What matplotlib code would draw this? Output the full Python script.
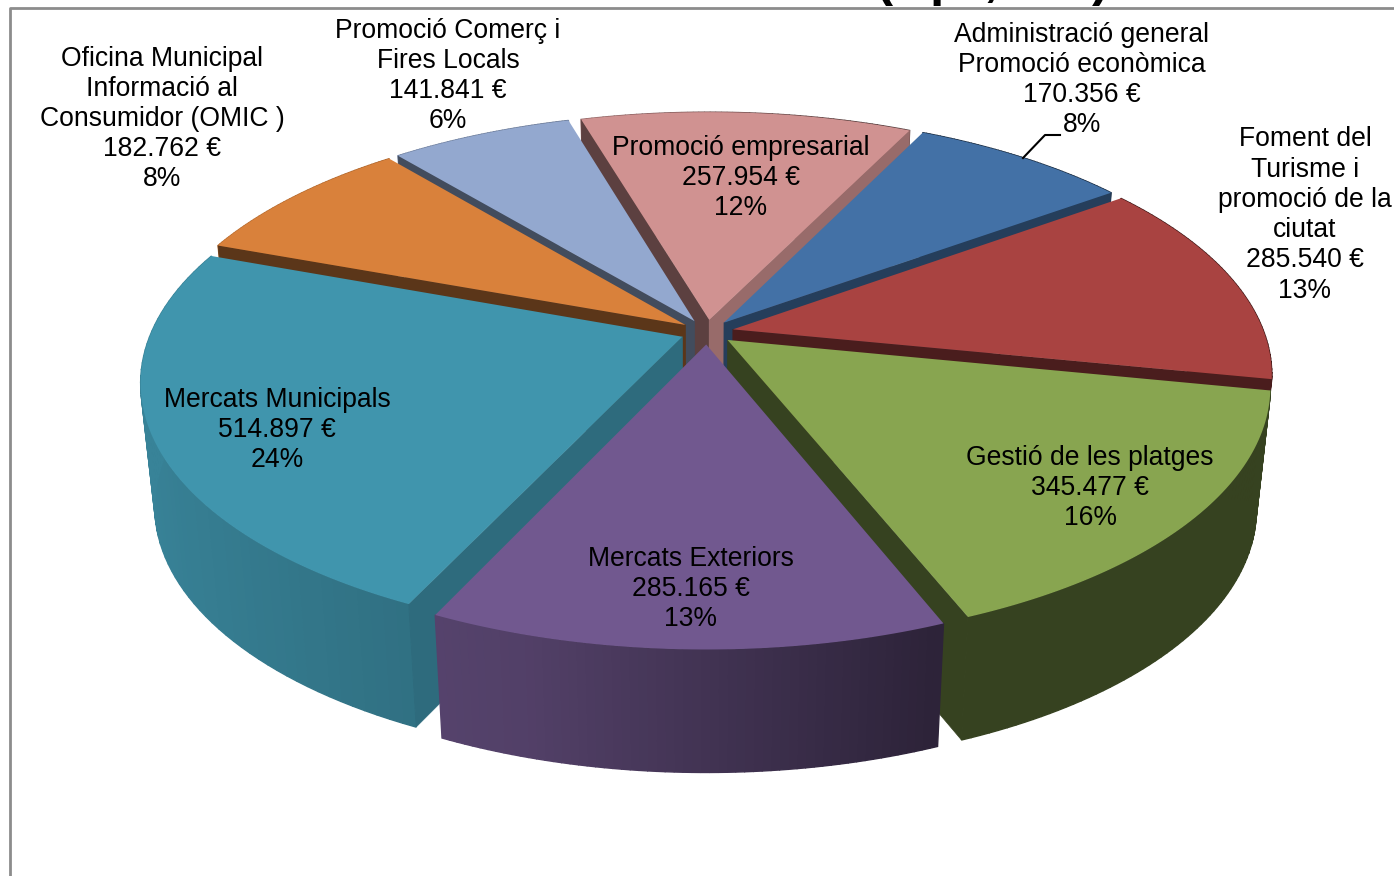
import numpy as np
import matplotlib
matplotlib.use("Agg")
import matplotlib.pyplot as plt

names = ["Administració general\nPromoció econòmica", "Foment del\nTurisme i\npromoció de la\nciutat",
         "Gestió de les platges", "Mercats Exteriors", "Mercats Municipals",
         "Oficina Municipal\nInformació al\nConsumidor (OMIC )", "Promoció Comerç i\nFires Locals",
         "Promoció empresarial"]
values = [170356, 285540, 345477, 285165, 514897, 182762, 141841, 257954]
colors = ["#4371a6", "#a94341", "#88a550", "#71588f", "#4095ad", "#d9813b", "#93a8cf", "#d09291"]

# shade of the two cut faces of each slice (higher angle side, lower angle side)
wall_hi = [0.55, 0.55, 0.40, 0.50, 0.72, 0.42, 0.45, 0.44]
wall_lo = [0.55, 0.44, 0.40, 0.50, 0.50, 0.42, 0.45, 0.73]

label_x = [1082, 1305, 1090, 691, 277, 162, 448, 741]
label_y = [80, 215, 488, 589, 430, 119, 76, 178]

cx, cy = 707, 332
R = 531
k = 0.466
p = 0.173
explode = 0.05
depth = 123
x_shrink = 0.975
start_angle = 63.9


def project(X, Y):
    s = 1 / (1 + p * Y)
    return cx + R * X * s, cy - R * k * Y * s


def to_bottom(x, y):
    return cx + (x - cx) * x_shrink, y + depth


def shade(color, f):
    rgb = np.array(matplotlib.colors.to_rgb(color))
    return tuple(rgb * f)


def side_shade(theta):
    return np.interp(np.cos(theta), [-1, -0.27, 0.35, 1], [0.88, 0.72, 0.40, 0.40])


fig = plt.figure(figsize=(13.94, 8.76), dpi=100)
ax = fig.add_axes([0, 0, 1, 1])
ax.set_xlim(0, 1394)
ax.set_ylim(876, 0)
ax.axis("off")
plt.rcParams["font.family"] = ["Liberation Sans", "DejaVu Sans"]

# frame of the chart area, the title is cut off by the top of the picture
ax.plot([9.5, 9.5, 1394], [876, 8, 8], color="#8c8c8c", lw=2)
for ch, x in zip(["(", "p", ",", ")"], [884, 945, 991, 1100]):
    ax.text(x, -5, ch, fontsize=37, fontweight="bold", ha="center", va="baseline")

total = sum(values)
spans = [v / total * 360 for v in values]
starts = start_angle - np.concatenate([[0], np.cumsum(spans)[:-1]])

slices = []
for i in range(len(values)):
    a0 = np.radians(starts[i])
    a1 = np.radians(starts[i] - spans[i])
    mid = (a0 + a1) / 2
    slices.append((np.sin(mid), i, a0, a1, mid))

# back slices first
for _, i, a0, a1, mid in sorted(slices, key=lambda t: -t[0]):
    ex, ey = explode * np.cos(mid), explode * np.sin(mid)
    th = np.linspace(a0, a1, 60)
    xs, ys = project(ex + np.cos(th), ey + np.sin(th))
    ax_, ay_ = project(ex, ey)
    bx, by = to_bottom(xs, ys)
    abx, aby = to_bottom(ax_, ay_)

    # outer wall, then the cut faces that look towards the viewer, then the top
    for j in range(len(th) - 1):
        f = side_shade((th[j] + th[j + 1]) / 2)
        ax.fill([xs[j], xs[j + 1], bx[j + 1], bx[j]], [ys[j], ys[j + 1], by[j + 1], by[j]],
                color=shade(colors[i], f), lw=1)
    if np.cos(a0) < 0:
        ax.fill([ax_, xs[0], bx[0], abx], [ay_, ys[0], by[0], aby], color=shade(colors[i], wall_hi[i]), lw=0.5)
    if np.cos(a1) > 0:
        ax.fill([ax_, xs[-1], bx[-1], abx], [ay_, ys[-1], by[-1], aby], color=shade(colors[i], wall_lo[i]), lw=0.5)
    ax.fill(np.r_[ax_, xs], np.r_[ay_, ys], color=colors[i], lw=0)

for i in range(len(values)):
    money = f"{values[i]:,}".replace(",", ".") + " €"
    pct = f"{values[i] / total * 100:.0f}%"
    ax.text(label_x[i], label_y[i], f"{names[i]}\n{money}\n{pct}", fontsize=19.1, ha="center", va="center",
            linespacing=1.21, color="black")

ax.plot([1023, 1045, 1060], [158, 135, 135], color="black", lw=1.5)

fig.savefig("out.png", dpi=100)
